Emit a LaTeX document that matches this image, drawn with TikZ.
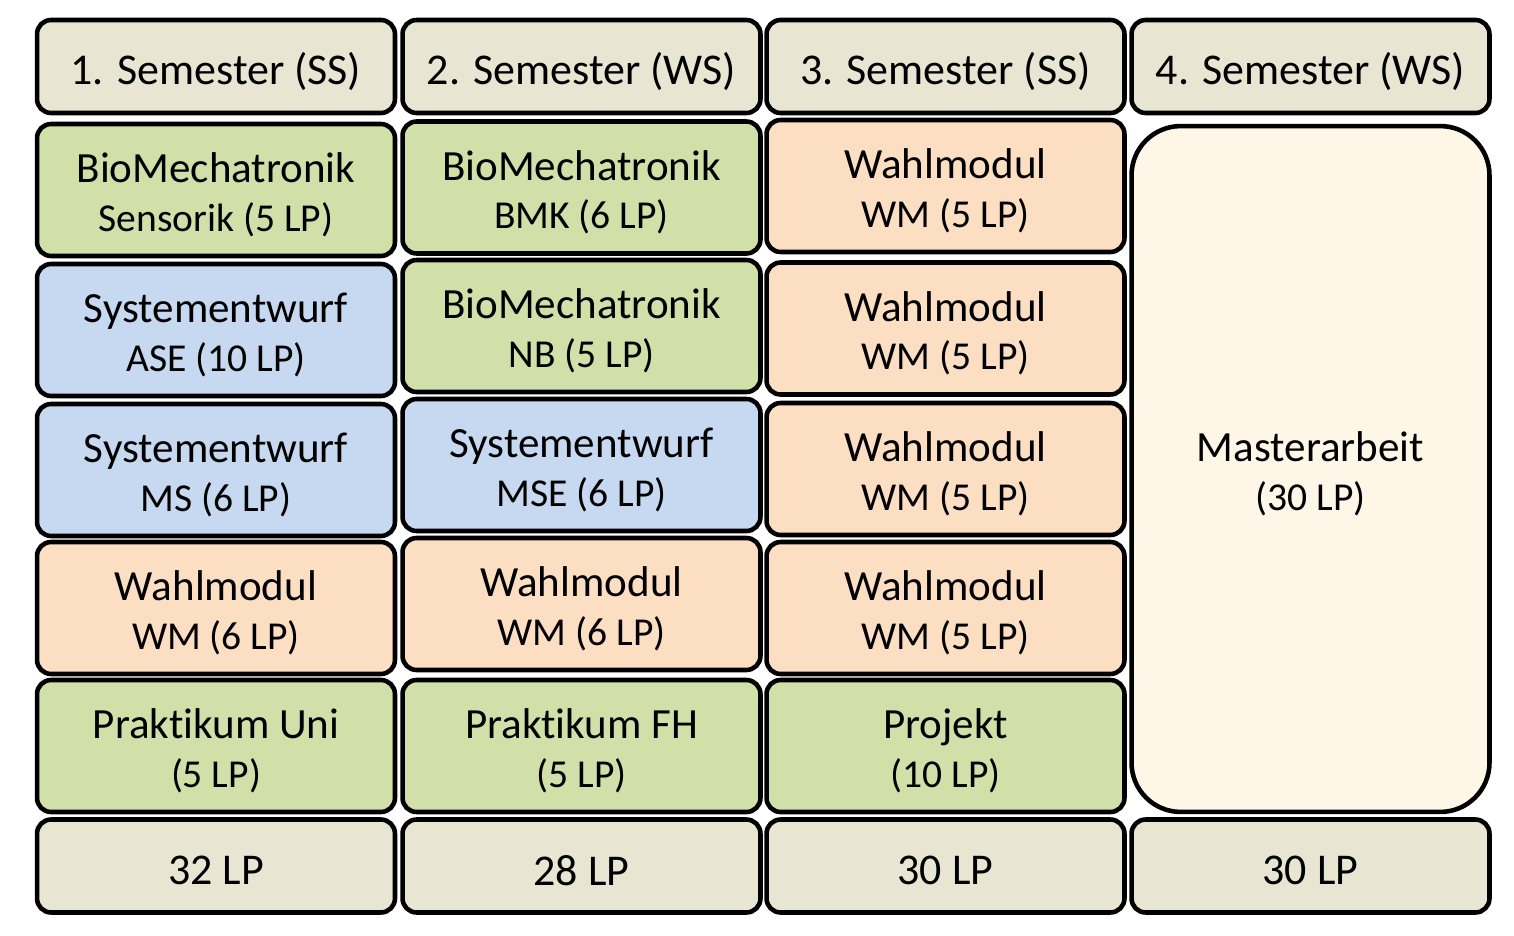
\documentclass[tikz,border=0pt]{standalone}
\usepackage{fontspec}
\setmainfont{Carlito}[Ligatures=NoCommon]
\usetikzlibrary{positioning, shadows}
\definecolor{kopf}{RGB}{232,229,211}
\definecolor{gruen}{RGB}{208,224,168}
\definecolor{blau}{RGB}{198,217,240}
\definecolor{orange}{RGB}{252,222,194}
\definecolor{creme}{RGB}{254,246,230}
\tikzset{
    box/.style={draw=black, line width=2.6pt, rounded corners=8pt, align=center,
        minimum width=7.16cm, minimum height=2.64cm, inner sep=0pt},
    kopfbox/.style={box, fill=kopf, minimum height=1.86cm, font=\fontsize{25}{30}\selectfont},
    gross/.style={font=\fontsize{24.5}{28.5}\selectfont},
}
% etwas Luft oben, damit der Text tiefer sitzt
\newcommand{\hoch}[1]{\raisebox{0pt}[\dimexpr\height+5.5pt\relax]{#1}}
\newcommand{\zweizeilig}[2]{\hoch{#1}\\[-1pt]{\fontsize{22.5}{28.5}\selectfont #2}}
\begin{document}
\begin{tikzpicture}[x=0.02cm, y=-0.02cm]
\useasboundingbox (0,0) rectangle (1514,936);

% Kopfzeile und Summen
\foreach \x/\kopf/\summe [count=\i] in {216/1. Semester (SS)/32 LP, 581.5/2. Semester (WS)/28 LP,
        945.5/3. Semester (SS)/30 LP, 1310.5/4. Semester (WS)/30 LP}{
    \node[kopfbox] (sem\i) at (\x,66.5) {\hoch{\kopf}};
    \node[kopfbox] (lp\i) at (\x,866) {\hoch{\summe}};
}

% 1. Semester
\foreach \y/\farbe/\titel/\lp [count=\j] in {
        190/gruen/BioMechatronik/Sensorik (5 LP),
        330/blau/Systementwurf/ASE (10 LP),
        470/blau/Systementwurf/MS (6 LP),
        608/orange/Wahlmodul/WM (6 LP),
        746/gruen/Praktikum Uni/(5 LP)}{
    \node[box, gross, fill=\farbe] (a\j) at (216,\y) {\zweizeilig{\titel}{\lp}};
}

% 2. Semester
\foreach \y/\farbe/\titel/\lp [count=\j] in {
        187.5/gruen/BioMechatronik/BMK (6 LP),
        326/gruen/BioMechatronik/NB (5 LP),
        465/blau/Systementwurf/MSE (6 LP),
        604/orange/Wahlmodul/WM (6 LP),
        746/gruen/Praktikum FH/(5 LP)}{
    \node[box, gross, fill=\farbe] (b\j) at (581.5,\y) {\zweizeilig{\titel}{\lp}};
}

% 3. Semester
\foreach \y/\farbe/\titel/\lp [count=\j] in {
        186/orange/Wahlmodul/WM (5 LP),
        328.5/orange/Wahlmodul/WM (5 LP),
        469/orange/Wahlmodul/WM (5 LP),
        608/orange/Wahlmodul/WM (5 LP),
        746/gruen/Projekt/(10 LP)}{
    \node[box, gross, fill=\farbe] (c\j) at (945.5,\y) {\zweizeilig{\titel}{\lp}};
}

% 4. Semester
\node[box, gross, fill=creme, rounded corners=28pt, minimum height=13.72cm] (master)
    at (1310.5,469) {\zweizeilig{Masterarbeit}{(30 LP)}};

\end{tikzpicture}
\end{document}
